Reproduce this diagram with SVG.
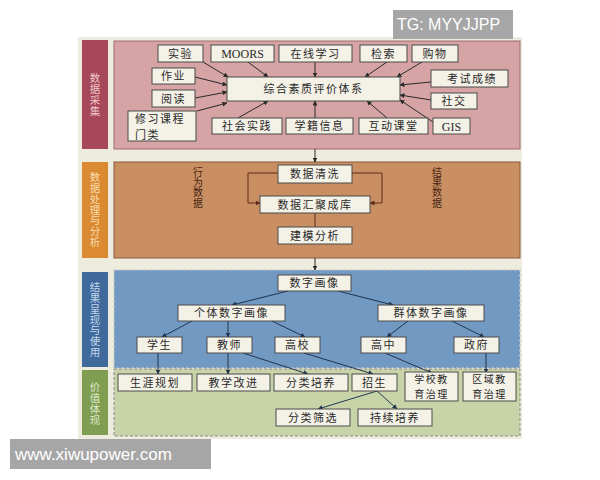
<svg xmlns="http://www.w3.org/2000/svg" width="600" height="480" viewBox="0 0 600 480">
<style>
.bx{fill:#f4f1e7;stroke:#4a4a4a;stroke-width:1}
.t{font-family:"Noto Sans CJK SC",sans-serif;font-size:11px;fill:#2a2a2a;text-anchor:middle;letter-spacing:1.5px}
.t2{font-family:"Noto Sans CJK SC",sans-serif;font-size:10px;fill:#2a2a2a;text-anchor:middle;letter-spacing:1.5px}
.s{font-family:"Liberation Serif",serif;font-size:12px;fill:#2a2a2a;text-anchor:middle}
.v{font-family:"Noto Sans CJK SC",sans-serif;font-size:10.5px;writing-mode:vertical-rl;text-orientation:upright;letter-spacing:0.3px}
.c{fill:none;stroke:#2a2a2a;stroke-width:1}
.cb{fill:none;stroke:#1f3550;stroke-width:1}
.co{fill:none;stroke:#5a2a18;stroke-width:1}
.wm{font-family:"Liberation Sans",sans-serif;fill:#ffffff}
</style>
<defs>
<marker id="a" viewBox="0 0 10 10" refX="9" refY="5" markerWidth="5" markerHeight="5" orient="auto"><path d="M0,0L10,5L0,10z" fill="#2a2a2a"/></marker>
<marker id="ab" viewBox="0 0 10 10" refX="9" refY="5" markerWidth="5" markerHeight="5" orient="auto"><path d="M0,0L10,5L0,10z" fill="#1f3550"/></marker>
<marker id="ao" viewBox="0 0 10 10" refX="9" refY="5" markerWidth="5" markerHeight="5" orient="auto"><path d="M0,0L10,5L0,10z" fill="#5a2a18"/></marker>
</defs>
<rect x="0" y="0" width="600" height="480" fill="#ffffff"/>
<rect x="78" y="37" width="444" height="402" fill="#eeebdf"/>

<g id="sections">
<rect x="82" y="40" width="26" height="109" fill="#a6485a"/>
<rect x="114" y="41" width="406" height="108" fill="#d6a4a4" stroke="#a06a6a" stroke-width="1"/>
<rect x="82" y="162" width="26" height="96" fill="#dc8a32"/>
<rect x="114" y="162" width="406" height="96" fill="#c98f62" stroke="#8a5a3a" stroke-width="1"/>
<rect x="82" y="272" width="26" height="95" fill="#3f6a9b"/>
<rect x="114" y="270" width="406" height="98" fill="#7299c2" stroke="#c8c8c8" stroke-width="1.2" stroke-dasharray="3,2"/>
<rect x="82" y="370" width="26" height="65" fill="#7f9e52"/>
<rect x="114" y="369" width="406" height="67" fill="#c8d4a8" stroke="#8a8a8a" stroke-width="1" stroke-dasharray="3,2"/>
<text class="v" x="95" y="73" fill="#f0c8cc">数据采集</text>
<text class="v" x="95" y="172" fill="#f8dcae">数据处理与分析</text>
<text class="v" x="95" y="282" fill="#c6d8ee">结果呈现与使用</text>
<text class="v" x="95" y="382" fill="#dfe9c8">价值体现</text>
<text class="v" x="198" y="167" fill="#4a2414" style="font-size:10px">行为数据</text>
<text class="v" x="437" y="167" fill="#4a2414" style="font-size:10px">结果数据</text>
</g>

<g id="connectors">
<path class="c" marker-end="url(#a)" d="M203,62L228,77"/>
<path class="c" marker-end="url(#a)" d="M248,62L268,77"/>
<path class="c" marker-end="url(#a)" d="M315,62L315,77"/>
<path class="c" marker-end="url(#a)" d="M387,62L365,77"/>
<path class="c" marker-end="url(#a)" d="M422,62L397,77"/>
<path class="c" marker-end="url(#a)" d="M195,77L227,85"/>
<path class="c" marker-end="url(#a)" d="M195,98L227,92"/>
<path class="c" marker-end="url(#a)" d="M197,111L227,103"/>
<path class="c" marker-end="url(#a)" d="M431,82L400,85"/>
<path class="c" marker-end="url(#a)" d="M431,100L400,95"/>
<path class="c" marker-end="url(#a)" d="M433,122L400,100"/>
<path class="c" marker-end="url(#a)" d="M238,118L268,101"/>
<path class="c" marker-end="url(#a)" d="M315,118L315,101"/>
<path class="c" marker-end="url(#a)" d="M387,118L367,101"/>
<path class="c" marker-end="url(#a)" d="M315,149L315,162"/>
<path class="co" marker-end="url(#ao)" d="M278,173L248,173L248,203L260,203"/>
<path class="co" marker-end="url(#ao)" d="M352,173L382,173L382,203L370,203"/>
<path class="co" d="M315,213L315,227"/>
<path class="c" marker-end="url(#a)" d="M315,258L315,270"/>
<path class="cb" marker-end="url(#ab)" d="M288,291L232,305"/>
<path class="cb" marker-end="url(#ab)" d="M338,291L393,305"/>
<path class="cb" marker-end="url(#ab)" d="M192,321L162,337"/>
<path class="cb" marker-end="url(#ab)" d="M228,321L228,337"/>
<path class="cb" marker-end="url(#ab)" d="M272,321L305,337"/>
<path class="cb" marker-end="url(#ab)" d="M408,321L387,337"/>
<path class="cb" marker-end="url(#ab)" d="M452,321L484,337"/>
<path class="cb" marker-end="url(#ab)" d="M158,353L158,374"/>
<path class="cb" marker-end="url(#ab)" d="M228,353L228,374"/>
<path class="cb" marker-end="url(#ab)" d="M243,353L308,374"/>
<path class="cb" marker-end="url(#ab)" d="M304,353L373,374"/>
<path class="cb" marker-end="url(#ab)" d="M385,353L432,373"/>
<path class="cb" marker-end="url(#ab)" d="M486,353L486,373"/>
<path class="cb" marker-end="url(#ab)" d="M377,391L318,409"/>
<path class="cb" marker-end="url(#ab)" d="M377,391L397,409"/>
</g>

<g id="n-shiyan"><rect class="bx" x="158" y="45" width="45" height="17"/><text class="t" x="180.5" y="57.5">实验</text></g>
<g id="n-moors"><rect class="bx" x="211" y="45" width="63" height="17"/><text class="s" x="242.5" y="57.5">MOORS</text></g>
<g id="n-zaixian"><rect class="bx" x="279" y="45" width="73" height="17"/><text class="t" x="315.5" y="57.5">在线学习</text></g>
<g id="n-jiansuo"><rect class="bx" x="360" y="45" width="47" height="17"/><text class="t" x="383.5" y="57.5">检索</text></g>
<g id="n-gouwu"><rect class="bx" x="412" y="45" width="46" height="17"/><text class="t" x="435" y="57.5">购物</text></g>
<g id="n-zuoye"><rect class="bx" x="152" y="68" width="43" height="16"/><text class="t" x="173.5" y="80">作业</text></g>
<g id="n-yuedu"><rect class="bx" x="152" y="90" width="43" height="17"/><text class="t" x="173.5" y="102.5">阅读</text></g>
<g id="n-xiuxi"><rect class="bx" x="128" y="111" width="68" height="30"/><text class="t2" x="135" y="123" style="text-anchor:start;font-size:11px">修习课程</text><text class="t2" x="135" y="139" style="text-anchor:start;font-size:11px">门类</text></g>
<g id="n-zonghe"><rect class="bx" x="227" y="77" width="173" height="24"/><text class="t" x="313.5" y="93">综合素质评价体系</text></g>
<g id="n-kaoshi"><rect class="bx" x="431" y="70" width="77" height="17"/><text class="t" x="472" y="82.5">考试成绩</text></g>
<g id="n-shejiao"><rect class="bx" x="431" y="93" width="46" height="16"/><text class="t" x="454" y="105">社交</text></g>
<g id="n-gis"><rect class="bx" x="433" y="118" width="37" height="16"/><text class="s" x="451.5" y="130.5">GIS</text></g>
<g id="n-shehui"><rect class="bx" x="212" y="118" width="70" height="16"/><text class="t" x="247" y="130">社会实践</text></g>
<g id="n-xueji"><rect class="bx" x="286" y="118" width="67" height="16"/><text class="t" x="319.5" y="130">学籍信息</text></g>
<g id="n-hudong"><rect class="bx" x="359" y="118" width="69" height="16"/><text class="t" x="393.5" y="130">互动课堂</text></g>

<g id="n-qingxi"><rect class="bx" x="278" y="165" width="74" height="18"/><text class="t" x="315" y="178">数据清洗</text></g>
<g id="n-huiju"><rect class="bx" x="260" y="196" width="110" height="17"/><text class="t" x="315" y="208.5">数据汇聚成库</text></g>
<g id="n-jianmo"><rect class="bx" x="278" y="227" width="74" height="17"/><text class="t" x="315" y="239.5">建模分析</text></g>

<g id="n-huaxiang"><rect class="bx" x="278" y="275" width="73" height="16"/><text class="t" x="314.5" y="287">数字画像</text></g>
<g id="n-geti"><rect class="bx" x="178" y="305" width="107" height="16"/><text class="t" x="231.5" y="317">个体数字画像</text></g>
<g id="n-qunti"><rect class="bx" x="378" y="305" width="106" height="16"/><text class="t" x="431" y="317">群体数字画像</text></g>
<g id="n-xuesheng"><rect class="bx" x="137" y="337" width="45" height="16"/><text class="t" x="159.5" y="349">学生</text></g>
<g id="n-jiaoshi"><rect class="bx" x="207" y="337" width="45" height="16"/><text class="t" x="229.5" y="349">教师</text></g>
<g id="n-gaoxiao"><rect class="bx" x="275" y="337" width="45" height="16"/><text class="t" x="297.5" y="349">高校</text></g>
<g id="n-gaozhong"><rect class="bx" x="361" y="337" width="45" height="16"/><text class="t" x="383.5" y="349">高中</text></g>
<g id="n-zhengfu"><rect class="bx" x="454" y="337" width="45" height="16"/><text class="t" x="476.5" y="349">政府</text></g>

<g id="n-shengya"><rect class="bx" x="118" y="374" width="74" height="17"/><text class="t" x="155" y="386.5">生涯规划</text></g>
<g id="n-gaijin"><rect class="bx" x="197" y="374" width="73" height="17"/><text class="t" x="233.5" y="386.5">教学改进</text></g>
<g id="n-peiyang"><rect class="bx" x="274" y="374" width="74" height="17"/><text class="t" x="311" y="386.5">分类培养</text></g>
<g id="n-zhaosheng"><rect class="bx" x="352" y="374" width="45" height="17"/><text class="t" x="374.5" y="386.5">招生</text></g>
<g id="n-xuexiao"><rect class="bx" x="405" y="372" width="53" height="29"/><text class="t2" x="431.5" y="383">学校教</text><text class="t2" x="431.5" y="397.5">育治理</text></g>
<g id="n-quyu"><rect class="bx" x="463" y="372" width="53" height="29"/><text class="t2" x="489.5" y="383">区域教</text><text class="t2" x="489.5" y="397.5">育治理</text></g>
<g id="n-shaixuan"><rect class="bx" x="276" y="409" width="74" height="17"/><text class="t" x="313" y="421.5">分类筛选</text></g>
<g id="n-chixu"><rect class="bx" x="358" y="409" width="74" height="17"/><text class="t" x="395" y="421.5">持续培养</text></g>

<g id="watermarks">
<rect x="393" y="10" width="120" height="29" fill="#a6a6a6"/>
<text class="wm" x="397" y="30" font-size="16">TG: MYYJJPP</text>
<rect x="10" y="439" width="201" height="30" fill="#a6a6a6"/>
<text class="wm" x="15" y="460" font-size="17">www.xiwupower.com</text>
</g>
</svg>
